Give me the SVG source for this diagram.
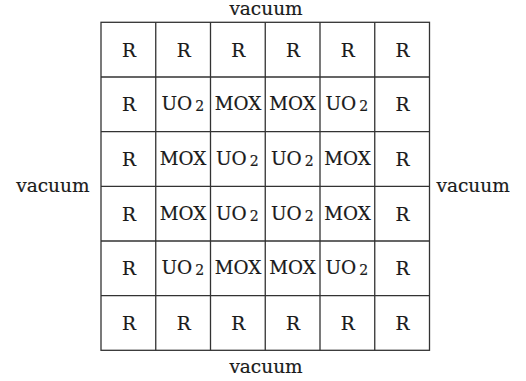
<svg xmlns="http://www.w3.org/2000/svg" width="526" height="381" viewBox="0 0 526 381">
<style>
text{font-family:"DejaVu Serif","Liberation Serif",serif;font-size:18.5px;fill:#1a1a1a;stroke:#1a1a1a;stroke-width:0.2;}
.c{text-anchor:middle;}
.cell{fill:#fff;stroke:#333;stroke-width:1.3;}
.sub{font-size:14px;}
</style>
<rect width="526" height="381" fill="#fff"/>
<g id="grid">
<rect class="cell" x="101" y="22.3" width="328.5" height="328"/>
<path d="M155.75 22.3V350.3M210.5 22.3V350.3M265.25 22.3V350.3M320 22.3V350.3M374.75 22.3V350.3M101 77H429.5M101 131.7H429.5M101 186.3H429.5M101 241H429.5M101 295.7H429.5" stroke="#333" stroke-width="1.3" fill="none"/>
</g>
<g id="labels">
<text class="c" x="266" y="15.3" font-size="19">vacuum</text>
<text class="c" x="266" y="372.5" font-size="19">vacuum</text>
<text x="89.5" y="192.3" text-anchor="end" font-size="19">vacuum</text>
<text x="436.5" y="192.3" font-size="19">vacuum</text>
</g>
<g id="row1">
<text class="c" x="129" y="56.8">R</text>
<text class="c" x="183.6" y="56.8">R</text>
<text class="c" x="238.3" y="56.8">R</text>
<text class="c" x="293" y="56.8">R</text>
<text class="c" x="347.8" y="56.8">R</text>
<text class="c" x="402.5" y="56.8">R</text>
</g>
<g id="row2">
<text class="c" x="129" y="111.3">R</text>
<text x="161.5" y="110.3">UO<tspan class="sub" dx="3" dy="1">2</tspan></text>
<text class="c" x="238" y="110.3" textLength="46.5" lengthAdjust="spacingAndGlyphs">MOX</text>
<text class="c" x="292.6" y="110.3" textLength="46.5" lengthAdjust="spacingAndGlyphs">MOX</text>
<text x="325.5" y="110.3">UO<tspan class="sub" dx="3" dy="1">2</tspan></text>
<text class="c" x="402.5" y="111.3">R</text>
</g>
<g id="row3">
<text class="c" x="129" y="166">R</text>
<text class="c" x="183" y="165" textLength="46.5" lengthAdjust="spacingAndGlyphs">MOX</text>
<text x="216" y="165">UO<tspan class="sub" dx="3" dy="1">2</tspan></text>
<text x="271" y="165">UO<tspan class="sub" dx="3" dy="1">2</tspan></text>
<text class="c" x="347.5" y="165" textLength="46.5" lengthAdjust="spacingAndGlyphs">MOX</text>
<text class="c" x="402.5" y="166">R</text>
</g>
<g id="row4">
<text class="c" x="129" y="220.7">R</text>
<text class="c" x="183" y="219.7" textLength="46.5" lengthAdjust="spacingAndGlyphs">MOX</text>
<text x="216" y="219.7">UO<tspan class="sub" dx="3" dy="1">2</tspan></text>
<text x="271" y="219.7">UO<tspan class="sub" dx="3" dy="1">2</tspan></text>
<text class="c" x="347.5" y="219.7" textLength="46.5" lengthAdjust="spacingAndGlyphs">MOX</text>
<text class="c" x="402.5" y="220.7">R</text>
</g>
<g id="row5">
<text class="c" x="129" y="275.3">R</text>
<text x="161.5" y="274.3">UO<tspan class="sub" dx="3" dy="1">2</tspan></text>
<text class="c" x="238" y="274.3" textLength="46.5" lengthAdjust="spacingAndGlyphs">MOX</text>
<text class="c" x="292.6" y="274.3" textLength="46.5" lengthAdjust="spacingAndGlyphs">MOX</text>
<text x="325.5" y="274.3">UO<tspan class="sub" dx="3" dy="1">2</tspan></text>
<text class="c" x="402.5" y="275.3">R</text>
</g>
<g id="row6">
<text class="c" x="129" y="330">R</text>
<text class="c" x="183.6" y="330">R</text>
<text class="c" x="238.3" y="330">R</text>
<text class="c" x="293" y="330">R</text>
<text class="c" x="347.8" y="330">R</text>
<text class="c" x="402.5" y="330">R</text>
</g>
</svg>
